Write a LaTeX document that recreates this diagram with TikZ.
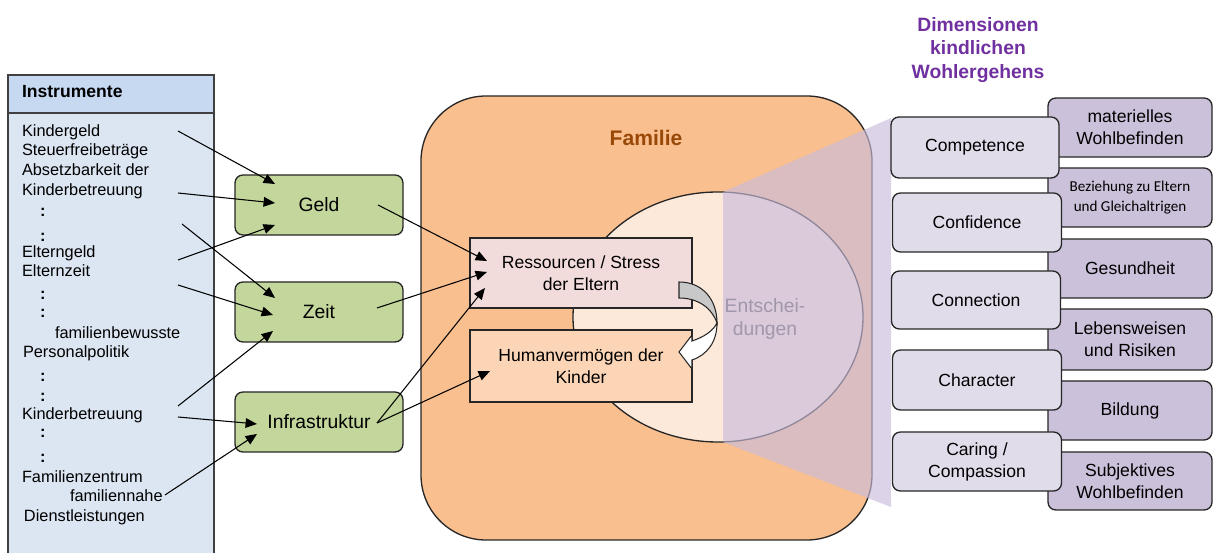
\documentclass[tikz,border=0pt]{standalone}
\usepackage{fontspec}
\setmainfont{Liberation Sans}
\newfontfamily\carlito{Carlito}
\usetikzlibrary{arrows.meta,fadings,shapes.geometric}
\definecolor{hdrblue}{HTML}{C6D9F1}
\definecolor{panelblue}{HTML}{DCE6F2}
\definecolor{boxgreen}{HTML}{C3D69B}
\definecolor{famorange}{HTML}{F9BF8F}
\definecolor{famtext}{HTML}{984807}
\definecolor{ellfill}{HTML}{FDE9D9}
\definecolor{resfill}{HTML}{F2DCDB}
\definecolor{humfill}{HTML}{FBD5B5}
\definecolor{lavlight}{HTML}{E1DCEA}
\definecolor{lavdark}{HTML}{CCC1DA}
\definecolor{beamcol}{HTML}{C9BCDB}
\definecolor{titlepurple}{HTML}{7030A0}
\definecolor{linegray}{HTML}{262626}
\definecolor{panelline}{HTML}{404040}
\definecolor{enttext}{HTML}{A097AB}
\definecolor{arrowgray}{HTML}{C8C8C8}
\pgfdeclareverticalshading{beamshade}{100bp}{color(0bp)=(transparent!35); color(11.6bp)=(transparent!92); color(22.9bp)=(transparent!0); color(100bp)=(transparent!0)}
\pgfdeclarefading{beamfade}{\pgfuseshading{beamshade}}
\begin{document}
\begin{tikzpicture}[x=0.02cm,y=-0.02cm,
  sz/.style 2 args={minimum width={#1*0.02cm},minimum height={#2*0.02cm}},
  every node/.style={inner sep=0pt,outer sep=0pt},
  ptxt/.style={anchor=base west,font=\fontsize{9.3}{11}\selectfont},
  gbox/.style={draw=linegray,line width=0.75pt,fill=boxgreen,rounded corners=4.5pt,font=\fontsize{11}{13}\selectfont},
  cbox/.style={draw=linegray,line width=0.75pt,align=center,font=\fontsize{10}{12.5}\selectfont},
  lbox/.style={draw=linegray,line width=0.75pt,fill=lavlight,rounded corners=4.5pt,align=center,font=\fontsize{10}{12.5}\selectfont},
  rbox/.style={draw=linegray,line width=0.75pt,fill=lavdark,rounded corners=4.5pt,align=center,font=\fontsize{10}{12.5}\selectfont},
  conn/.style={line width=0.6pt,-{Triangle[length=6.5pt,width=5.5pt]}}
]
\useasboundingbox (0,0) rectangle (1214,553);

% ---------- Instrumente panel ----------
\path[fill=panelblue] (8,113) rectangle (214,553);
\draw[panelline,line width=0.6pt] (8,553) -- (8,75) -- (214,75) -- (214,553);
\node[draw=panelline,line width=0.6pt,fill=hdrblue,sz={206}{38}] (hdr) at (111,94) {};
\node[anchor=base west,font=\bfseries\fontsize{10}{12}\selectfont] (instr) at (22,98) {Instrumente};
\node[ptxt] (t1) at (22,137) {Kindergeld};
\node[ptxt] (t2) at (22,156) {Steuerfreibeträge};
\node[ptxt] (t3) at (22,176) {Absetzbarkeit der};
\node[ptxt] (t4) at (22,196) {Kinderbetreuung};
\node[ptxt,font=\bfseries\fontsize{9.3}{11}\selectfont] (d1) at (40,217) {:};
\node[ptxt,font=\bfseries\fontsize{9.3}{11}\selectfont] (d2) at (40,242) {:};
\node[ptxt] (t5) at (22,258) {Elterngeld};
\node[ptxt] (t6) at (22,277) {Elternzeit};
\node[ptxt,font=\bfseries\fontsize{9.3}{11}\selectfont] (d3) at (40,300) {:};
\node[ptxt,font=\bfseries\fontsize{9.3}{11}\selectfont] (d4) at (40,318) {:};
\node[ptxt] (t7) at (55,339) {familienbewusste};
\node[ptxt] (t8) at (23,358) {Personalpolitik};
\node[ptxt,font=\bfseries\fontsize{9.3}{11}\selectfont] (d5) at (40,382) {:};
\node[ptxt,font=\bfseries\fontsize{9.3}{11}\selectfont] (d6) at (40,402) {:};
\node[ptxt] (t9) at (22,420) {Kinderbetreuung};
\node[ptxt,font=\bfseries\fontsize{9.3}{11}\selectfont] (d7) at (40,438) {:};
\node[ptxt,font=\bfseries\fontsize{9.3}{11}\selectfont] (d8) at (40,463) {:};
\node[ptxt] (t10) at (22,483) {Familienzentrum};
\node[ptxt] (t11) at (70,502) {familiennahe};
\node[ptxt] (t12) at (24,522) {Dienstleistungen};

% ---------- green boxes ----------
\node[gbox,sz={168}{60}] (geld) at (319,205) {Geld};
\node[gbox,sz={168}{60}] (zeit) at (319,312) {Zeit};
\node[gbox,sz={168}{60}] (infra) at (319,422) {Infrastruktur};

% ---------- Familie ----------
\node[draw=linegray,line width=0.75pt,fill=famorange,rounded corners=37pt,sz={451}{444}] (fam) at (646.5,318) {};
\node[font=\bfseries\fontsize{12}{14}\selectfont,text=famtext] (famlabel) at (646,138) {Familie};
\node[ellipse,draw=linegray,line width=0.75pt,fill=ellfill,sz={290}{250}] (ell) at (718,317) {};
\node[cbox,fill=resfill,sz={222}{70}] (res) at (581,273) {Ressourcen / Stress\\der Eltern};
\node[cbox,fill=humfill,sz={222}{72}] (hum) at (581,366) {Humanvermögen der\\Kinder};

% curved block arrow
\draw[linegray,line width=0.6pt,fill=arrowgray] (679,282) .. controls (703,282) and (717,300) .. (717,323)
  .. controls (712,308) and (698,298) .. (679,298) -- cycle;
\draw[linegray,line width=0.6pt,fill=white] (717,323) .. controls (717,342) and (707,355) .. (692,360)
  -- (692,369) -- (679,352) -- (692,335) -- (692,341) .. controls (704,337) and (713,331) .. (717,323) -- cycle;

% translucent beam
\fill[beamcol,fill opacity=0.65,path fading=beamfade] (723,192) -- (891,118) -- (891,507) -- (723,442) -- cycle;
\node[align=center,text=enttext,font=\fontsize{11}{13}\selectfont] (ent) at (765,319) {Entschei-\\dungen};

% ---------- Dimensionen ----------
\node[align=center,text=titlepurple,font=\bfseries\fontsize{11}{13.6}\selectfont] (title) at (978,50) {Dimensionen\\kindlichen\\Wohlergehens};
\node[rbox,sz={164}{59}] (mat) at (1130,127.5) {materielles\\Wohlbefinden};
\node[rbox,sz={164}{59},font=\carlito\fontsize{8.6}{11.3}\selectfont] (bez) at (1130,197.5) {Beziehung zu Eltern\\und Gleichaltrigen};
\node[rbox,sz={164}{59}] (ges) at (1130,268.5) {Gesundheit};
\node[rbox,sz={164}{61}] (leb) at (1130,339.5) {Lebensweisen\\und Risiken};
\node[rbox,sz={164}{59}] (bil) at (1130,410.5) {Bildung};
\node[rbox,sz={164}{58}] (sub) at (1130,481) {Subjektives\\Wohlbefinden};
\node[lbox,sz={168}{61}] (comp) at (975,147.5) {Competence};
\node[lbox,sz={169}{59}] (conf) at (977,222.5) {Confidence};
\node[lbox,sz={169}{58}] (cone) at (976,300) {Connection};
\node[lbox,sz={169}{60}] (char) at (977,380) {Character};
\node[lbox,sz={169}{59}] (car) at (977,461.5) {Caring /\\Compassion};

% ---------- connectors ----------
\coordinate (s1) at (178,131); \coordinate (e1) at (275,184);
\coordinate (s2) at (178,193); \coordinate (e2) at (275,203);
\coordinate (s3) at (178,260); \coordinate (e3) at (275,225);
\coordinate (s4) at (182,224); \coordinate (e4) at (275,298);
\coordinate (s5) at (178,285); \coordinate (e5) at (273,315);
\coordinate (s6) at (178,406); \coordinate (e6) at (273,331);
\coordinate (s7) at (178,417); \coordinate (e7) at (257,424);
\coordinate (s8) at (165,495); \coordinate (e8) at (257,434);
\draw[conn] (s1) -- (e1);
\draw[conn] (s2) -- (e2);
\draw[conn] (s3) -- (e3);
\draw[conn] (s4) -- (e4);
\draw[conn] (s5) -- (e5);
\draw[conn] (s6) -- (e6);
\draw[conn] (s7) -- (e7);
\draw[conn] (s8) -- (e8);
\coordinate (gs) at (378,205); \coordinate (zs) at (377,308); \coordinate (is) at (377,423);
\coordinate (r1) at (487,261); \coordinate (r2) at (487,272); \coordinate (r3) at (485,288);
\coordinate (h1) at (490,371);
\draw[conn] (gs) -- (r1);
\draw[conn] (zs) -- (r2);
\draw[conn] (is) -- (r3);
\draw[conn] (is) -- (h1);
\end{tikzpicture}
\end{document}
